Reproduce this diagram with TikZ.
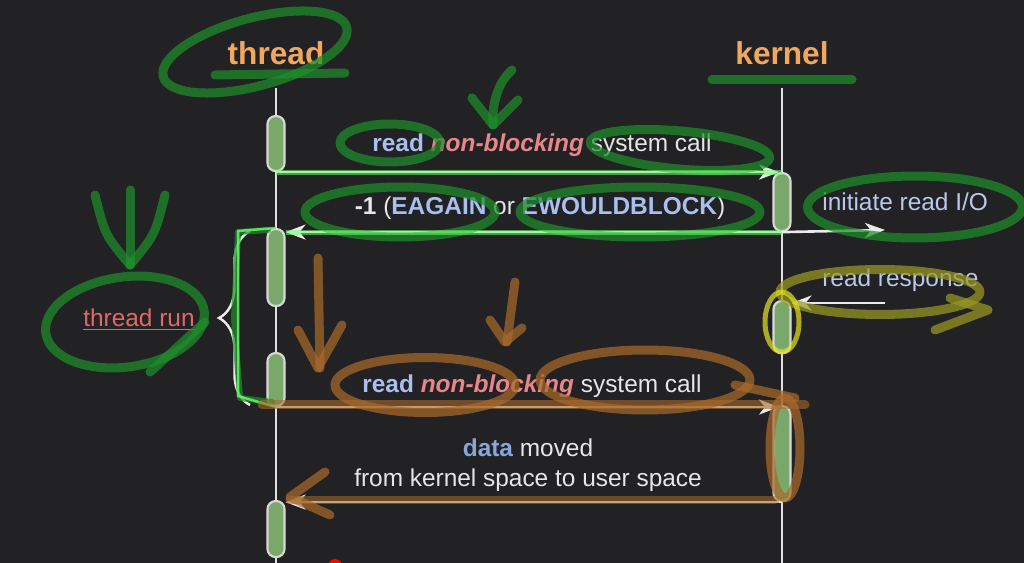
\documentclass[tikz,border=0pt]{standalone}
\usepackage{fontspec}
\setmainfont{Liberation Sans}
\usetikzlibrary{shapes,arrows.meta,positioning,calc,decorations.pathreplacing}
\definecolor{bg}{HTML}{222123}
\definecolor{headcol}{HTML}{F0A860}
\definecolor{callcol}{HTML}{A8BFEF}
\definecolor{nbcol}{HTML}{E8868A}
\definecolor{txtcol}{HTML}{E6E6E6}
\definecolor{iocol}{HTML}{B9C9EC}
\definecolor{datacol}{HTML}{88A6DE}
\definecolor{barcol}{HTML}{7AA86A}
\definecolor{runcol}{HTML}{E06A6A}
\definecolor{pengreen}{HTML}{1E8E2C}
\definecolor{penlime}{HTML}{6CFF6C}
\definecolor{penbrown}{HTML}{A86A2C}
\definecolor{penolive}{HTML}{9A9A22}
\definecolor{penyellow}{HTML}{E0E020}
\tikzstyle{head} = [text=headcol, font=\fontsize{18}{20}\selectfont\bfseries, inner sep=0pt]
\tikzstyle{txt} = [text=txtcol, font=\fontsize{13.9}{16}\selectfont, inner sep=0pt]
\tikzstyle{bar} = [rectangle, draw=white!85!black, line width=1.2pt, fill=barcol, rounded corners=0.16cm, minimum width=0.34cm, inner sep=0pt, anchor=north]
\tikzstyle{life} = [draw=white!88!black, line width=1.2pt]
\tikzstyle{msg} = [draw=white!92!black, line width=1.5pt, -{Stealth[length=0.4cm,width=0.3cm,inset=0.12cm]}]
\tikzstyle{pen} = [line width=0.18cm, line cap=round, line join=round, opacity=0.72]

\begin{document}
\begin{tikzpicture}[x=0.02cm, y=-0.02cm]
    \fill[bg] (0,0) rectangle (1024,563);
    \useasboundingbox (0,0) rectangle (1024,563);

    \node[head, anchor=base] (thr) at (276,65) {thread};
    \node[head, anchor=base] (ker) at (782,65) {kernel};
    \coordinate (thrTop) at (276,88);
    \coordinate (thrEnd) at (276,563);
    \coordinate (kerTop) at (782,88);
    \coordinate (kerEnd) at (782,563);
    \draw[life] (thrTop) -- (thrEnd);
    \draw[life] (kerTop) -- (kerEnd);

    % activation bars
    \node[bar, minimum height=1.1cm] (tb1) at (276,115) {};
    \node[bar, minimum height=1.54cm] (tb2) at (276,228) {};
    \node[bar, minimum height=1.06cm] (tb3) at (276,352) {};
    \node[bar, minimum height=1.12cm] (tb4) at (276,500) {};
    \node[bar, minimum height=1.16cm] (kb1) at (782,172) {};
    \node[bar, minimum height=1.04cm] (kb2) at (782,300) {};
    \node[bar, minimum height=1.9cm] (kb3) at (782,405) {};

    % messages
    \coordinate (ioEnd) at (885,230);
    \coordinate (rrStart) at (885,303);
    \draw[msg, shorten >=0.06cm] (tb1.south) -- (tb1.south -| kb1.center);
    \draw[msg] (kb1.south) -- (kb1.south -| tb2.east);
    \draw[msg] (kb1.south) -- (ioEnd);
    \draw[msg] (rrStart) -- (rrStart -| kb2.east);
    \draw[msg, shorten >=0.06cm] (tb3.south) -- (tb3.south -| kb3.center);
    \draw[msg] (kb3.south) -- (kb3.south -| tb4.east);

    \node[txt, anchor=base] (txt1) at (542,152) {\textcolor{callcol}{\bfseries read} \textcolor{nbcol}{\bfseries\itshape non-blocking} system call};
    \node[txt, anchor=base] (txt2) at (540,215) {\textbf{-1} (\textcolor{callcol}{\bfseries EAGAIN} or \textcolor{callcol}{\bfseries EWOULDBLOCK})};
    \node[txt, anchor=base west, text=iocol] (txt3) at (822,211) {initiate read I/O};
    \node[txt, anchor=base west, text=iocol] (txt4) at (822,287) {read response};
    \node[txt, anchor=base] (txt5) at (532,393) {\textcolor{callcol}{\bfseries read} \textcolor{nbcol}{\bfseries\itshape non-blocking} system call};
    \node[txt, anchor=base] (txt6) at (528,457) {\textcolor{datacol}{\bfseries data} moved};
    \node[txt, anchor=base] (txt7) at (528,486) {from kernel space to user space};

    \draw[white!92!black, line width=1.4pt, decorate, decoration={brace, amplitude=0.62cm}] (250,405) -- (250,231);
    \node[txt, text=runcol, anchor=base] (run) at (139,327) {\underline{thread run}};

    % pen marks drawn over the slide
    \draw[pen, pengreen, rotate around={15:(255,52)}] (255,52) ellipse [x radius=1.9cm, y radius=0.68cm];
    \draw[pen, pengreen] (215,75) -- (345,73);
    \draw[pen, pengreen] (712,80) -- (852,80);
    \draw[pen, pengreen] (512,70) .. controls (495,85) and (492,110) .. (493,125);
    \draw[pen, pengreen] (472,98) -- (493,125) -- (518,100);
    \draw[pen, pengreen] (390,143) ellipse [x radius=1.0cm, y radius=0.38cm];
    \draw[pen, pengreen, rotate around={-5:(680,150)}] (680,150) ellipse [x radius=1.8cm, y radius=0.38cm];
    \draw[pen, pengreen] (400,212) ellipse [x radius=1.9cm, y radius=0.5cm];
    \draw[pen, pengreen] (640,212) ellipse [x radius=2.4cm, y radius=0.5cm];
    \draw[pen, pengreen] (915,207) ellipse [x radius=2.15cm, y radius=0.62cm];
    \draw[pen, pengreen, rotate around={8:(125,322)}] (125,322) ellipse [x radius=1.6cm, y radius=0.9cm];
    \draw[pen, pengreen] (150,372) -- (205,322);
    \draw[pen, pengreen] (95,195) .. controls (105,235) .. (130,265);
    \draw[pen, pengreen] (130,190) -- (130,265);
    \draw[pen, pengreen] (165,195) .. controls (155,235) .. (130,265);
    \draw[pen, pengreen, line width=0.12cm] (268,230) -- (238,232) -- (234,318) -- (240,398) -- (272,402);
    \draw[penlime, line width=0.1cm, opacity=0.55] (tb1.south) -- (tb1.south -| kb1.center);
    \draw[penlime, line width=0.1cm, opacity=0.55] (kb1.south) -- (kb1.south -| tb2.east);
    \draw[penlime, line width=0.05cm, opacity=0.8] (tb2.north) -- (238,231) -- (238,396) -- (tb3.south);
    \draw[pen, penolive] (880,292) ellipse [x radius=2.0cm, y radius=0.45cm];
    \draw[pen, penolive] (935,330) -- (988,310) -- (950,298);
    \draw[pen, penyellow, line width=0.1cm] (782,322) ellipse [x radius=0.34cm, y radius=0.6cm];
    \draw[pen, penbrown] (318,258) -- (320,368);
    \draw[pen, penbrown] (298,330) -- (318,368) -- (342,325);
    \draw[pen, penbrown] (515,282) -- (507,342);
    \draw[pen, penbrown] (490,320) -- (505,342) -- (522,328);
    \draw[pen, penbrown] (425,385) ellipse [x radius=1.8cm, y radius=0.55cm];
    \draw[pen, penbrown] (645,380) ellipse [x radius=2.1cm, y radius=0.6cm];
    \draw[pen, penbrown, opacity=0.6] (262,405) -- (805,405);
    \draw[pen, penbrown] (735,385) -- (795,398);
    \draw[pen, penbrown] (785,448) ellipse [x radius=0.3cm, y radius=1.0cm];
    \draw[pen, penbrown, opacity=0.55] (290,500) -- (775,500);
    \draw[pen, penbrown] (325,472) -- (290,497) -- (330,515);
    \fill[red] (335,566) circle [radius=0.14cm];
\end{tikzpicture}
\end{document}
